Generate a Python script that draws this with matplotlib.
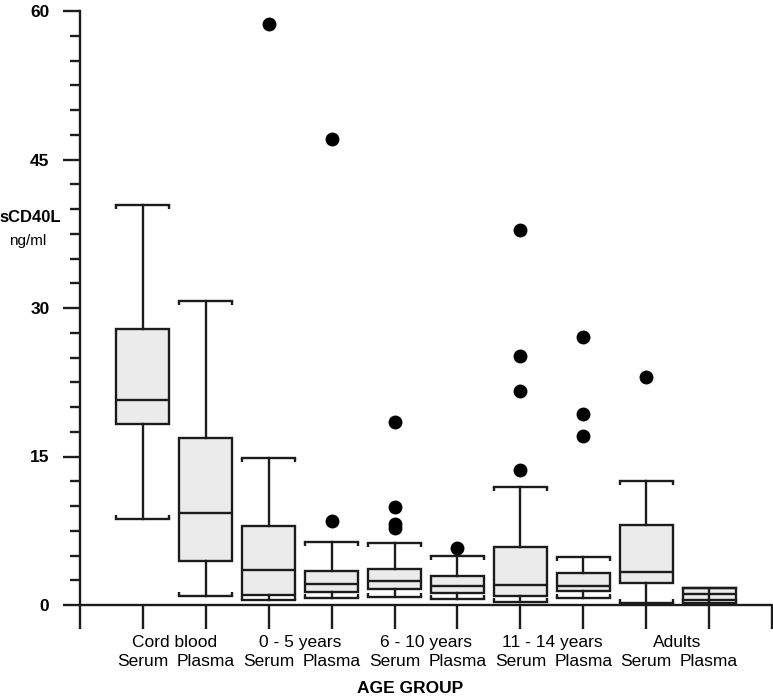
import matplotlib
matplotlib.use("Agg")
from matplotlib import pyplot as plt
from matplotlib.ticker import MultipleLocator

plt.rcParams['font.family'] = ['Liberation Sans', 'DejaVu Sans']

# box statistics (ng/ml)
groups = ["Cord blood", "0 - 5 years", "6 - 10 years", "11 - 14 years", "Adults"]
samples = ["Serum", "Plasma"] * 5
whislo = [8.7, 0.9, 0.5, 0.7, 0.85, 0.6, 0.35, 0.7, 0.2, 0.2]
q1 = [18.3, 4.4, 1.0, 1.3, 1.6, 1.2, 0.95, 1.45, 2.2, 0.55]
med = [20.7, 9.3, 3.5, 2.1, 2.4, 1.95, 2.0, 1.95, 3.3, 1.15]
q3 = [27.9, 16.9, 8.0, 3.4, 3.6, 2.9, 5.9, 3.2, 8.1, 1.7]
whishi = [40.4, 30.7, 14.8, 6.4, 6.3, 4.95, 11.9, 4.8, 12.5, 1.7]
fliers = [[], [], [58.7], [8.5, 47.1], [18.5, 9.9, 8.2, 7.8], [5.8],
          [13.6, 21.6, 25.2, 37.9], [17.1, 19.3, 27.1], [23.0], []]

stats = []
for i in range(10):
    stats.append(dict(whislo=whislo[i], q1=q1[i], med=med[i], q3=q3[i],
                      whishi=whishi[i], fliers=fliers[i]))

pos = list(range(1, 11))
w = 0.84
lc = '#1c1c1c'
lw = 1.7

fig = plt.figure(figsize=(7.73, 6.97), dpi=100)
ax = fig.add_axes([80 / 773, 1 - 605 / 697, 692 / 773, 594 / 697])

ax.bxp(stats, positions=pos, widths=w, patch_artist=True, capwidths=w,
       boxprops=dict(facecolor='#ebebeb', edgecolor=lc, linewidth=lw),
       medianprops=dict(color=lc, linewidth=lw),
       whiskerprops=dict(color=lc, linewidth=lw),
       capprops=dict(color=lc, linewidth=lw),
       flierprops=dict(marker='o', markerfacecolor='black', markeredgecolor='black',
                       markersize=9))

# small hooks on the cap ends
for i, p in enumerate(pos):
    if whishi[i] > q3[i]:
        ax.vlines([p - w / 2, p + w / 2], whishi[i] - 0.4, whishi[i], color=lc, lw=lw)
    if whislo[i] < q1[i]:
        ax.vlines([p - w / 2, p + w / 2], whislo[i], whislo[i] + 0.4, color=lc, lw=lw)
# the last box has its whisker line drawn through it
ax.vlines(pos[-1], whislo[-1], whishi[-1], color=lc, lw=lw, zorder=3)

ax.set_xlim(0, 11)
ax.set_ylim(0, 60)
for s in ['top', 'right']:
    ax.spines[s].set_visible(False)
for s in ['left', 'bottom']:
    ax.spines[s].set_linewidth(lw)
    ax.spines[s].set_color(lc)

ax.set_xticks(range(0, 12))
ax.set_xticklabels([])
ax.tick_params(axis='x', direction='out', length=17, width=lw, color=lc)

ax.yaxis.set_major_locator(MultipleLocator(15))
ax.yaxis.set_minor_locator(MultipleLocator(2.5))
ax.tick_params(axis='y', which='major', direction='out', length=12, width=lw,
               color=lc, pad=10, labelsize=12.5)
ax.tick_params(axis='y', which='minor', direction='out', length=7, width=lw, color=lc)
for t in ax.get_yticklabels():
    t.set_fontweight('bold')

# category labels
for p, s in zip(pos, samples):
    ax.text(p, -5.7, s, ha='center', va='center', fontsize=12.5, clip_on=False)
for g, name in enumerate(groups):
    ax.text(2 * g + 1.5, -3.8, name, ha='center', va='center', fontsize=12.5, clip_on=False)

fig.text(30 / 773, 1 - 218 / 697, "sCD40L", ha='center', va='center',
         fontsize=12, fontweight='bold')
fig.text(28 / 773, 1 - 241 / 697, "ng/ml", ha='center', va='center', fontsize=11)
fig.text(410 / 773, 1 - 681 / 697, "AGE GROUP", ha='center', va='top',
         fontsize=12.5, fontweight='bold')

fig.savefig("out.png", dpi=100)
